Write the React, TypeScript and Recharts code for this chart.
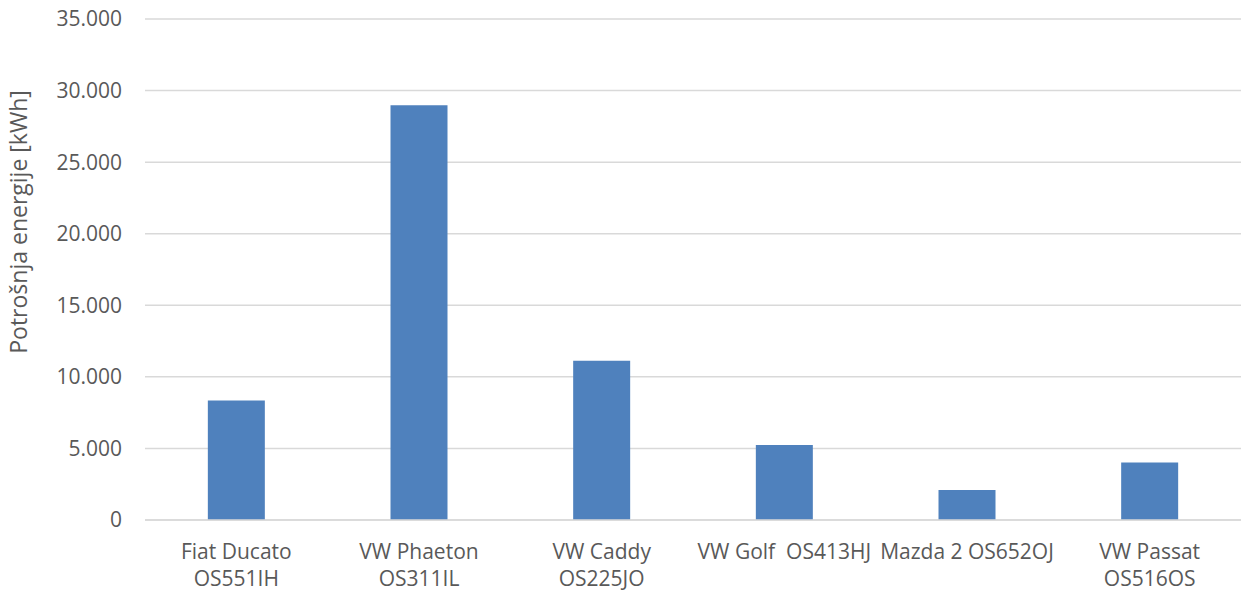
import React from 'react';
import { BarChart, Bar, XAxis, YAxis, CartesianGrid } from 'recharts';

const vehicles = [
  'Fiat Ducato\nOS551IH',
  'VW Phaeton\nOS311IL',
  'VW Caddy\nOS225JO',
  'VW Golf  OS413HJ',
  'Mazda 2 OS652OJ',
  'VW Passat\nOS516OS',
];
const energy = [8340, 28970, 11120, 5240, 2100, 4010];
const yTicks = [0, 5000, 10000, 15000, 20000, 25000, 30000, 35000];

const data = vehicles.map((name, i) => ({ name, energy: energy[i] }));

const FONT = '"Open Sans", sans-serif';
const GREY = '#595959';

const fmt = (v: number) => v.toString().replace(/\B(?=(\d{3})+(?!\d))/g, '.');

const CategoryTick = (props: any) => {
  const { x, y, payload } = props;
  const lines = String(payload.value).split('\n');
  return (
    <text x={x} y={y} textAnchor="middle" fill={GREY} fontSize={21} fontFamily={FONT}>
      {lines.map((line, i) => (
        <tspan key={i} x={x} y={y + 39 + i * 27} style={{ whiteSpace: 'pre' }}>
          {line}
        </tspan>
      ))}
    </text>
  );
};

// title sits a bit above the plot's middle, as in the source
const AxisTitle = () => {
  const cx = 27;
  const cy = 222;
  return (
    <text
      x={cx}
      y={cy}
      transform={`rotate(-90 ${cx} ${cy})`}
      textAnchor="middle"
      fill={GREY}
      fontSize={23}
      fontFamily={FONT}
    >
      Potrošnja energije [kWh]
    </text>
  );
};

const App: React.FC = () => {
  return (
    <div style={{ position: 'absolute', left: 0, top: 0, background: '#fff' }}>
      <BarChart
        width={1243}
        height={592}
        data={data}
        margin={{ top: 19, right: 2, left: 0, bottom: 0 }}
        barCategoryGap="34.4%"
      >
        <CartesianGrid vertical={false} stroke="#d9d9d9" strokeWidth={1.5} />
        <XAxis
          dataKey="name"
          height={72}
          interval={0}
          tickLine={false}
          tickSize={0}
          tickMargin={0}
          axisLine={{ stroke: '#d9d9d9', strokeWidth: 1.5 }}
          tick={<CategoryTick />}
        />
        <YAxis
          width={145}
          domain={[0, 35000]}
          ticks={yTicks}
          tickFormatter={fmt}
          axisLine={false}
          tickLine={false}
          tickSize={0}
          tickMargin={23}
          tick={{ fill: GREY, fontSize: 21, fontFamily: FONT }}
          label={<AxisTitle />}
        />
        <Bar dataKey="energy" fill="#4f81bd" isAnimationActive={false} />
      </BarChart>
    </div>
  );
};

export default App;
